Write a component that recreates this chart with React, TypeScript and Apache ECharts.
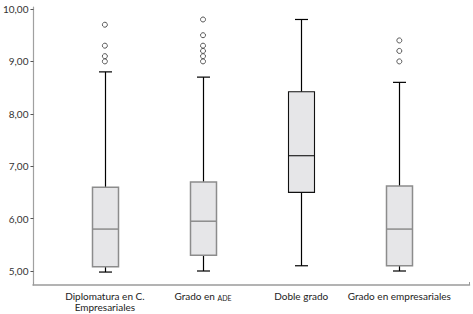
import React, { useEffect, useRef } from "react";
import * as echarts from "echarts";

const categories = [
  "Diplomatura en C.\nEmpresariales",
  "Grado en {sc|ADE}",
  "Doble grado",
  "Grado en empresariales",
];
const mins = [4.98, 5.0, 5.1, 5.0];
const q1s = [5.08, 5.3, 6.5, 5.1];
const medians = [5.8, 5.95, 7.2, 5.8];
const q3s = [6.6, 6.7, 8.42, 6.62];
const maxs = [8.8, 8.7, 9.8, 8.6];
const outliers: number[][] = [
  [9.7, 9.3, 9.1, 9.0],
  [9.8, 9.5, 9.3, 9.2, 9.1, 9.0],
  [],
  [9.4, 9.2, 9.0],
];
const yTicks = [5, 10, 1];

const boxStroke = ["#8c8c8c", "#8c8c8c", "#111111", "#8c8c8c"];
const boxStrokeWidth = [1.5, 1.5, 1.1, 1.5];

export default function App() {
  const ref = useRef<HTMLDivElement>(null);
  useEffect(() => {
    if (!ref.current) return;
    const chart = echarts.init(ref.current, null, { renderer: "svg" });
    const boxData = categories.map((_, i) => [i, mins[i], q1s[i], medians[i], q3s[i], maxs[i]]);
    const outData: number[][] = [];
    outliers.forEach((arr, i) => arr.forEach((v) => outData.push([i, v])));
    const font = "Lato, 'Open Sans', sans-serif";
    chart.setOption({
      animation: false,
      backgroundColor: "#ffffff",
      grid: [
        { left: 33, right: 4, top: 9, bottom: 43 },
        { left: 55.8, right: 24.6, top: 9, bottom: 43 },
        { left: 33, right: 3.5, top: 7, bottom: 29 },
      ],
      xAxis: [
        { type: "value", gridIndex: 0, show: false, min: 0, max: 1 },
        {
          type: "category",
          gridIndex: 1,
          data: categories,
          axisLine: { show: false },
          axisTick: { show: false },
          axisLabel: {
            interval: 0,
            margin: 19,
            fontFamily: font,
            fontSize: 10,
            lineHeight: 11,
            color: "#222",
            rich: {
              sc: { fontSize: 7, fontFamily: font, color: "#222", lineHeight: 11, verticalAlign: "bottom", padding: [2, 0, 0, 0] },
            },
          },
          splitLine: { show: false },
        },
        {
          type: "value",
          gridIndex: 2,
          min: 0,
          max: 1,
          interval: 1,
          axisLine: { show: true, lineStyle: { color: "#9a9a9a", width: 1.5 } },
          axisTick: { show: true, inside: true, length: 3, lineStyle: { color: "#9a9a9a" } },
          axisLabel: { show: false },
          splitLine: { show: false },
        },
      ],
      yAxis: [
        {
          type: "value",
          gridIndex: 0,
          min: yTicks[0],
          max: yTicks[1],
          interval: yTicks[2],
          axisLine: { show: false },
          axisTick: { show: true, length: 3, lineStyle: { color: "#555" } },
          axisLabel: {
            margin: 5,
            fontFamily: font,
            fontSize: 10,
            color: "#333",
            formatter: (v: number) => v.toFixed(2).replace(".", ","),
          },
          splitLine: { show: false },
        },
        {
          type: "value",
          gridIndex: 1,
          min: yTicks[0],
          max: yTicks[1],
          show: false,
          splitLine: { show: false },
        },
        {
          type: "value",
          gridIndex: 2,
          min: 0,
          max: 1,
          axisLine: { show: true, lineStyle: { color: "#a0a0a0", width: 1.2 } },
          axisTick: { show: false },
          axisLabel: { show: false },
          splitLine: { show: false },
        },
      ],
      series: [
        {
          type: "custom",
          xAxisIndex: 1,
          yAxisIndex: 1,
          data: boxData,
          encode: { x: 0, y: [1, 2, 3, 4, 5] },
          renderItem: (params: any, api: any) => {
            const i = api.value(0);
            const lo = api.coord([i, api.value(1)]);
            const q1 = api.coord([i, api.value(2)]);
            const md = api.coord([i, api.value(3)]);
            const q3 = api.coord([i, api.value(4)]);
            const hi = api.coord([i, api.value(5)]);
            const cx = Math.round(lo[0]) + 0.5;
            const bw = 26;
            const half = bw / 2;
            const cap = bw / 4;
            const stroke = boxStroke[params.dataIndex];
            const sw = boxStrokeWidth[params.dataIndex];
            const black = "#000";
            return {
              type: "group",
              children: [
                { type: "line", shape: { x1: cx, y1: q3[1], x2: cx, y2: hi[1] }, style: { stroke: black, lineWidth: 1.2 } },
                { type: "line", shape: { x1: cx, y1: q1[1], x2: cx, y2: lo[1] }, style: { stroke: black, lineWidth: 1.2 } },
                { type: "line", shape: { x1: cx - cap, y1: hi[1], x2: cx + cap, y2: hi[1] }, style: { stroke: black, lineWidth: 1.2 } },
                { type: "line", shape: { x1: cx - cap, y1: lo[1], x2: cx + cap, y2: lo[1] }, style: { stroke: black, lineWidth: 1.2 } },
                {
                  type: "rect",
                  shape: { x: cx - half, y: q3[1], width: bw, height: q1[1] - q3[1] },
                  style: { fill: "#e6e6e8", stroke, lineWidth: sw },
                },
                { type: "line", shape: { x1: cx - half, y1: md[1], x2: cx + half, y2: md[1] }, style: { stroke, lineWidth: sw } },
              ],
            };
          },
        },
        {
          type: "scatter",
          xAxisIndex: 1,
          yAxisIndex: 1,
          data: outData,
          symbol: "circle",
          symbolSize: 5,
          itemStyle: { color: "#ffffff", borderColor: "#555", borderWidth: 1, opacity: 1 },
        },
      ],
    });
    return () => chart.dispose();
  }, []);
  return <div ref={ref} style={{ width: 473, height: 314, position: "absolute", left: 0, top: 0 }} />;
}
